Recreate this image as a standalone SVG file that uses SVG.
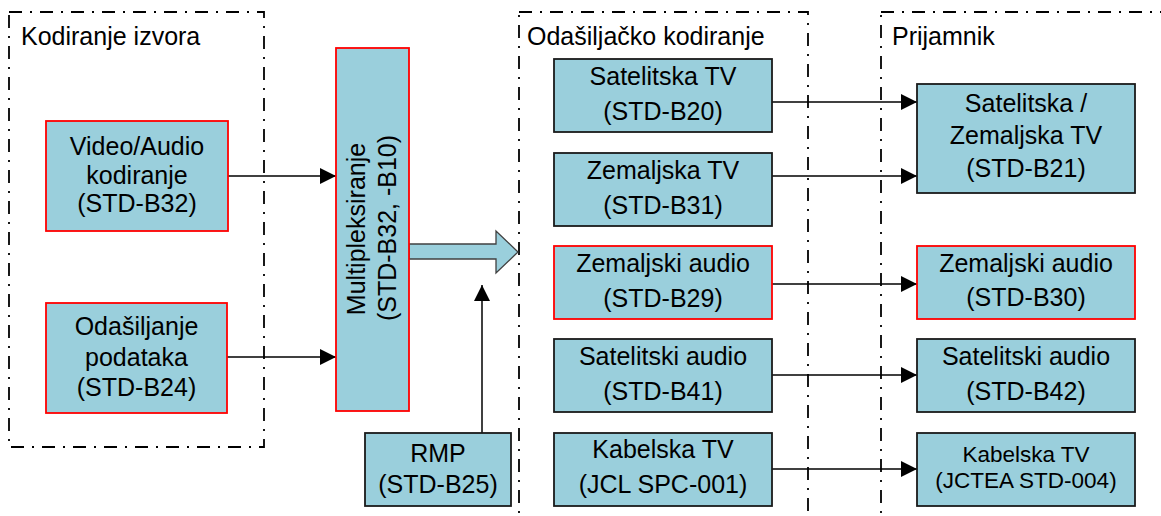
<svg xmlns="http://www.w3.org/2000/svg" width="1161" height="516" viewBox="0 0 1161 516">
<defs>
<style>
.grp{fill:none;stroke:#000;stroke-width:1.8;stroke-dasharray:13 8 2 8}
.nb{fill:#9ACFDC;stroke:#1a1a1a;stroke-width:1.8}
.nr{fill:#9ACFDC;stroke:#FF0000;stroke-width:1.8}
text{font-family:"Liberation Sans",Arial,sans-serif;font-size:25px;fill:#000}
.c{text-anchor:middle}
.s{font-size:22.5px}
.ln{fill:none;stroke:#000;stroke-width:1.5;marker-end:url(#ah)}
</style>
<marker id="ah" markerUnits="userSpaceOnUse" markerWidth="16" markerHeight="16" viewBox="0 0 16 16" refX="16" refY="8" orient="auto">
<path d="M0,0 L16,8 L0,16 Z" fill="#000"/>
</marker>
</defs>
<rect width="1161" height="516" fill="#fff"/>
<g id="groups">
<rect class="grp" x="9" y="12" width="255" height="435"/>
<rect class="grp" x="519" y="12" width="289" height="530"/>
<rect class="grp" x="881" y="12" width="320" height="530"/>
<text x="21" y="45">Kodiranje izvora</text>
<text x="527" y="45">Odašiljačko kodiranje</text>
<text x="892" y="45">Prijamnik</text>
</g>
<g id="connectors">
<line class="ln" x1="228" y1="176" x2="336" y2="176"/>
<line class="ln" x1="227" y1="357" x2="336" y2="357"/>
<line class="ln" x1="482" y1="433" x2="482" y2="285"/>
<polygon points="409,244 496,244 496,231 518,252 496,273 496,259 409,259" fill="#9ACFDC" stroke="#404040" stroke-width="1.3"/>
<line class="ln" x1="772" y1="102" x2="917" y2="102"/>
<line class="ln" x1="772" y1="176" x2="917" y2="176"/>
<line class="ln" x1="772" y1="284" x2="917" y2="284"/>
<line class="ln" x1="772" y1="375" x2="917" y2="375"/>
<line class="ln" x1="772" y1="469" x2="917" y2="469"/>
</g>
<g id="video">
<rect class="nr" x="46" y="121" width="182" height="110"/>
<text class="c" x="137" y="155">Video/Audio</text>
<text class="c" x="137" y="184">kodiranje</text>
<text class="c" x="137" y="212">(STD-B32)</text>
</g>
<g id="podaci">
<rect class="nr" x="46" y="303" width="181" height="110"/>
<text class="c" x="136.5" y="335">Odašiljanje</text>
<text class="c" x="136.5" y="366">podataka</text>
<text class="c" x="136.5" y="396">(STD-B24)</text>
</g>
<g id="mux">
<rect class="nr" x="336" y="48" width="73" height="363"/>
<text class="c" transform="translate(365,229) rotate(-90)">Multipleksiranje</text>
<text class="c" transform="translate(396,228) rotate(-90)">(STD-B32, -B10)</text>
</g>
<g id="rmp">
<rect class="nb" x="365" y="433" width="146" height="73"/>
<text class="c" x="438" y="462">RMP</text>
<text class="c" x="438" y="493">(STD-B25)</text>
</g>
<g id="b20">
<rect class="nb" x="554" y="59" width="218" height="73"/>
<text class="c" x="663" y="85">Satelitska TV</text>
<text class="c" x="663" y="120">(STD-B20)</text>
</g>
<g id="b31">
<rect class="nb" x="554" y="153" width="218" height="73"/>
<text class="c" x="663" y="179">Zemaljska TV</text>
<text class="c" x="663" y="214">(STD-B31)</text>
</g>
<g id="b29">
<rect class="nr" x="554" y="246" width="218" height="73"/>
<text class="c" x="663" y="272">Zemaljski audio</text>
<text class="c" x="663" y="307">(STD-B29)</text>
</g>
<g id="b41">
<rect class="nb" x="554" y="339" width="218" height="73"/>
<text class="c" x="663" y="365">Satelitski audio</text>
<text class="c" x="663" y="400">(STD-B41)</text>
</g>
<g id="spc001">
<rect class="nb" x="554" y="433" width="218" height="73"/>
<text class="c" x="663" y="458">Kabelska TV</text>
<text class="c" x="663" y="493">(JCL SPC-001)</text>
</g>
<g id="b21">
<rect class="nb" x="917" y="84" width="218" height="109"/>
<text class="c" x="1026" y="112">Satelitska /</text>
<text class="c" x="1026" y="144">Zemaljska TV</text>
<text class="c" x="1026" y="177">(STD-B21)</text>
</g>
<g id="b30">
<rect class="nr" x="917" y="246" width="218" height="73"/>
<text class="c" x="1026" y="272">Zemaljski audio</text>
<text class="c" x="1026" y="306">(STD-B30)</text>
</g>
<g id="b42">
<rect class="nb" x="917" y="339" width="218" height="73"/>
<text class="c" x="1026" y="365">Satelitski audio</text>
<text class="c" x="1026" y="400">(STD-B42)</text>
</g>
<g id="std004">
<rect class="nb" x="917" y="433" width="218" height="73"/>
<text class="c s" x="1026" y="462">Kabelska TV</text>
<text class="c s" x="1026" y="488">(JCTEA STD-004)</text>
</g>
</svg>
